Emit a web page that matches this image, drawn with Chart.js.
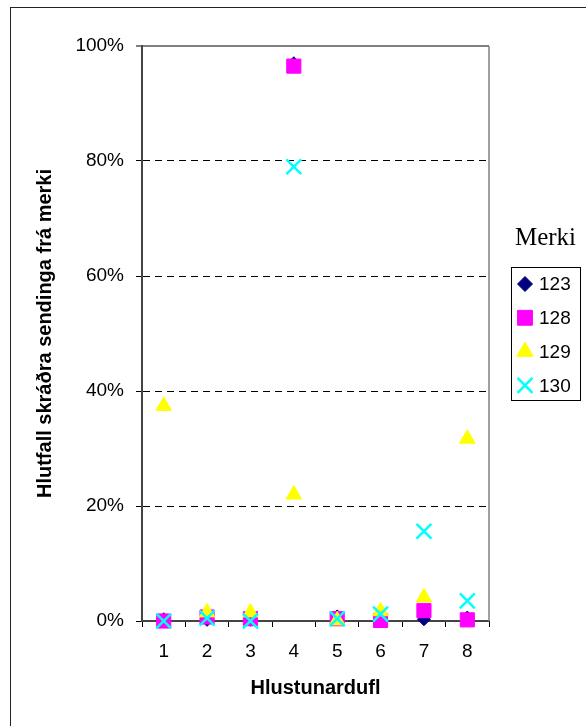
<!DOCTYPE html>
<html>
<head>
<meta charset="utf-8">
<script src="https://cdn.jsdelivr.net/npm/chart.js"></script>
<style>
  html, body { margin: 0; padding: 0; background: #fff; }
  #wrap { width: 586px; height: 726px; }
</style>
</head>
<body>
<div id="wrap"><canvas id="dreifing"></canvas></div>
<script>
// Hlustunardufl 1-8, hlutfall (%) skráðra sendinga frá hverju merki
const dufl = ['1', '2', '3', '4', '5', '6', '7', '8'];
const merki123 = [0.3, 0.2, 0.2, 97.0, 0.8, 0, 0.3, 0.6];
const merki128 = [0, 0.7, 0.4, 96.5, 0.4, 0.1, 1.8, 0.2];
const merki129 = [37.4, 1.5, 1.5, 22.0, 0.1, 1.7, 4.1, 31.7];
const merki130 = [0, 0.5, 0, 79.0, 0.4, 1.2, 15.6, 3.5];
const yTicks = [0, 20, 40, 60, 80, 100];

const sans = "'Liberation Sans', Arial, sans-serif";

// frame, plot border and the boxed legend on the right
const extras = {
  id: 'extras',
  afterDraw(chart) {
    const ctx = chart.ctx;
    const a = chart.chartArea;
    ctx.save();
    // outer frame
    ctx.strokeStyle = '#222';
    ctx.lineWidth = 1;
    ctx.strokeRect(10.5, 7.5, 700, 800);
    // right border of plot area
    ctx.strokeStyle = '#808080';
    ctx.lineWidth = 1.5;
    ctx.beginPath();
    ctx.moveTo(a.right, a.top);
    ctx.lineTo(a.right, a.bottom);
    ctx.stroke();

    // legend
    ctx.fillStyle = '#000';
    ctx.font = "25px 'Liberation Serif', 'Times New Roman', serif";
    ctx.textAlign = 'center';
    ctx.textBaseline = 'alphabetic';
    ctx.fillText('Merki', 545.5, 245);
    ctx.strokeStyle = '#000';
    ctx.lineWidth = 1;
    ctx.strokeRect(511.5, 267.5, 69, 133);
    ctx.font = '19px ' + sans;
    ctx.textAlign = 'left';
    ctx.textBaseline = 'middle';
    chart.data.datasets.forEach((ds, i) => {
      const y = 284 + i * 33.8;
      ctx.save();
      ctx.fillStyle = ds.backgroundColor;
      ctx.strokeStyle = ds.borderColor;
      ctx.lineWidth = ds.borderWidth;
      Chart.helpers.drawPoint(ctx, {
        pointStyle: ds.pointStyle,
        radius: ds.legendRadius,
        borderWidth: ds.borderWidth,
        rotation: 0
      }, 525, y);
      ctx.restore();
      ctx.fillStyle = '#000';
      ctx.fillText(ds.label, 539, y + 1);
    });
    ctx.restore();
  }
};

new Chart(document.getElementById('dreifing'), {
  type: 'line',
  data: {
    labels: dufl,
    datasets: [
      { label: '123', data: merki123, pointStyle: 'rectRot', pointRadius: 6.5, legendRadius: 7.5,
        backgroundColor: '#000080', borderColor: '#000080', borderWidth: 1, order: 3 },
      { label: '128', data: merki128, pointStyle: 'rect', pointRadius: 10, legendRadius: 10.5,
        backgroundColor: '#FF00FF', borderColor: '#FF00FF', borderWidth: 1, order: 2 },
      { label: '129', data: merki129, pointStyle: 'triangle', pointRadius: 9, legendRadius: 9.5,
        backgroundColor: '#FFFF00', borderColor: '#FFFF00', borderWidth: 1, order: 1 },
      { label: '130', data: merki130, pointStyle: 'crossRot', pointRadius: 10.5, legendRadius: 10.5,
        backgroundColor: '#00FFFF', borderColor: '#00FFFF', borderWidth: 2.5, order: 0 }
    ].map(d => Object.assign(d, { showLine: false, clip: false, pointHoverRadius: d.pointRadius }))
  },
  options: {
    responsive: true,
    maintainAspectRatio: false,
    animation: false,
    layout: { padding: { top: 46, right: 97, left: 0, bottom: 0 } },
    plugins: { legend: { display: false }, tooltip: { enabled: false } },
    scales: {
      x: {
        offset: true,
        grid: { offset: true, drawOnChartArea: false, tickLength: 6, tickColor: '#000', tickWidth: 1 },
        border: { color: '#444', width: 2 },
        ticks: { color: '#000', padding: 13, font: { family: sans, size: 19 } },
        title: { display: true, text: 'Hlustunardufl', color: '#000',
                 font: { family: sans, size: 20, weight: 'bold' }, padding: { top: 0, bottom: 26 } },
        afterFit(scale) { scale.height = 105; }
      },
      y: {
        min: 0,
        max: 100,
        afterBuildTicks(scale) { scale.ticks = yTicks.map(v => ({ value: v })); },
        grid: {
          color: c => (c.tick && c.tick.value === 100) ? '#808080' : (c.tick && c.tick.value > 0 ? '#000' : 'rgba(0,0,0,0)'),
          lineWidth: c => (c.tick && c.tick.value === 100) ? 2 : 1,
          tickLength: 6, tickColor: '#000', tickWidth: 1
        },
        border: { color: '#444', width: 2, dash: c => (c.tick && c.tick.value === 100) ? [] : [7, 5] },
        ticks: { color: '#000', padding: 12, font: { family: sans, size: 19 }, callback: v => v + '%' },
        title: { display: true, text: 'Hlutfall skráðra sendinga frá merki', color: '#000',
                 font: { family: sans, size: 20, weight: 'bold' }, padding: { top: 33, bottom: 0 } },
        afterFit(scale) { scale.width = 142; }
      }
    }
  },
  plugins: [extras]
});
</script>
</body>
</html>
